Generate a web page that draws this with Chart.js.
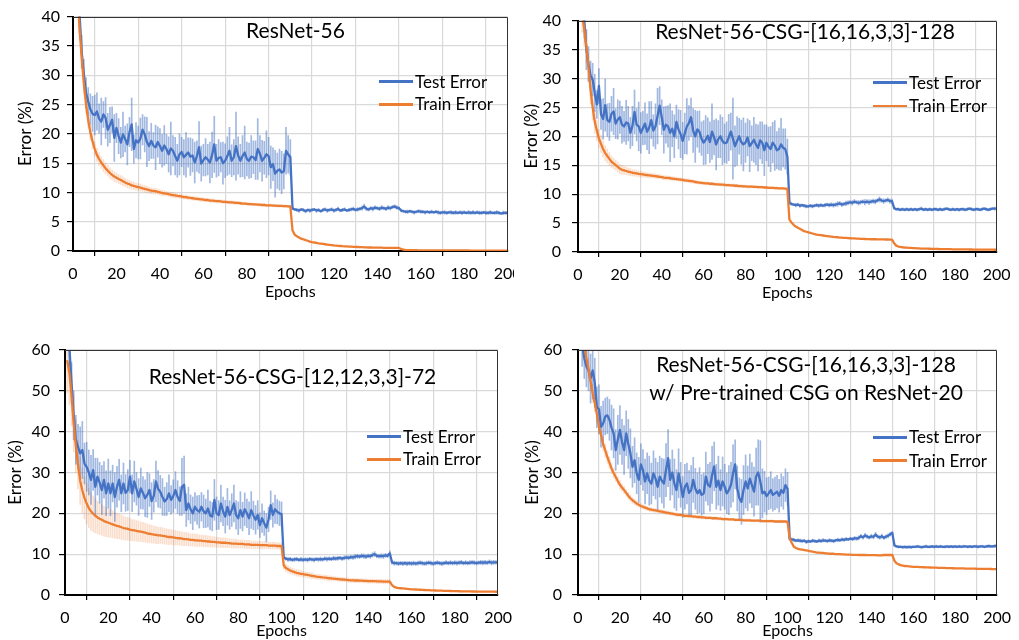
<!DOCTYPE html>
<html>
<head>
<meta charset="utf-8">
<title>ResNet-56 training curves</title>
<script src="https://cdn.jsdelivr.net/npm/chart.js@4.4.1/dist/chart.umd.min.js"></script>
<style>
  html, body { margin: 0; padding: 0; background: #fff; }
  body { width: 1019px; height: 640px; position: relative; overflow: hidden;
         font-family: Lato, "Open Sans", "DejaVu Sans", sans-serif; color: #000; }
  .panel { position: absolute; overflow: hidden; }
  .panel canvas { position: absolute; left: 0; top: 0; }
  .title { position: absolute; width: 500px; text-align: center; font-size: 21px;
           line-height: 28px; white-space: nowrap; }
  .legend-row { position: absolute; height: 24px; line-height: 24px; font-size: 17px;
                display: flex; align-items: center; white-space: nowrap; }
  .legend-row .swatch { display: inline-block; width: 34px; height: 2.5px; margin-right: 2px; }
</style>
</head>
<body>
<script>
// ---------- tick labels ----------
const epochTicks = [0, 20, 40, 60, 80, 100, 120, 140, 160, 180, 200];
const errTicks40 = [0, 5, 10, 15, 20, 25, 30, 35, 40];
const errTicks60 = [0, 10, 20, 30, 40, 50, 60];

// ---------- ResNet-56 (epochs 1..200) ----------
const r56Test = [
  50, 45, 40.5, 34, 30.2, 27, 25.5, 24.2, 23.4, 23.2,
  23.8, 22.6, 22.1, 23.3, 22.7, 20.7, 21.5, 22.4, 19.3, 21.0,
  19.6, 18.5, 19.9, 19.1, 18.2, 20.3, 21.6, 17.4, 18.9, 18.5,
  19.2, 20.7, 19.9, 18.6, 17.9, 18.8, 18.0, 17.7, 18.6, 17.9,
  17.1, 18.0, 17.4, 16.5, 17.5, 17.1, 16.2, 15.4, 16.5, 16.9,
  16.0, 16.4, 16.8, 16.1, 16.3, 15.1, 16.2, 17.7, 14.9, 15.5,
  16.0, 15.6, 15.1, 16.4, 18.2, 15.4, 15.9, 16.0, 15.0, 15.4,
  16.2, 17.1, 15.4, 16.0, 17.9, 16.3, 15.4, 16.2, 16.8, 15.7,
  15.4, 16.1, 16.0, 15.5, 17.4, 16.6, 15.4, 15.9, 16.5, 16.2,
  14.3, 14.8, 13.2, 13.7, 13.9, 13.4, 13.6, 17.1, 16.5, 16.0,
  7.3, 7.1, 7.0, 6.9, 7.1, 7.0, 6.8, 7.0, 6.9, 7.0,
  7.1, 6.9, 7.0, 6.8, 7.0, 7.1, 6.9, 7.0, 7.1, 6.9,
  7.0, 7.2, 6.9, 7.0, 7.1, 6.9, 7.0, 7.1, 7.2, 7.0,
  7.1, 7.2, 7.3, 7.6, 7.2, 7.1, 7.3, 7.2, 7.4, 7.3,
  7.2, 7.4, 7.3, 7.2, 7.4, 7.3, 7.5, 7.6, 7.4, 7.3,
  6.9, 6.8, 6.7, 6.7, 6.8, 6.7, 6.6, 6.7, 6.8, 6.7,
  6.7, 6.6, 6.7, 6.6, 6.7, 6.6, 6.7, 6.6, 6.5, 6.6,
  6.6, 6.5, 6.6, 6.6, 6.5, 6.6, 6.5, 6.6, 6.5, 6.6,
  6.5, 6.6, 6.5, 6.6, 6.5, 6.6, 6.5, 6.5, 6.6, 6.5,
  6.5, 6.6, 6.5, 6.5, 6.6, 6.5, 6.4, 6.5, 6.5, 6.5
];
const r56TestSpread = [
  3.0, 3.0, 3.2, 2.8, 2.5, 2.6, 2.4, 2.6, 3.0, 3.4,
  3.2, 2.5, 4.0, 2.2, 3.5, 2.8, 3.0, 2.2, 4.0, 2.5,
  3.0, 2.6, 3.8, 2.2, 3.5, 2.5, 4.5, 2.4, 3.0, 2.8,
  3.5, 2.6, 3.0, 4.2, 2.5, 3.0, 2.2, 3.8, 2.6, 3.0,
  2.8, 3.4, 2.5, 3.0, 4.5, 2.6, 3.2, 2.8, 3.5, 2.5,
  3.0, 3.8, 2.5, 3.2, 2.8, 3.5, 2.6, 4.4, 3.0, 2.7,
  3.2, 2.6, 3.5, 3.9, 4.8, 2.8, 3.1, 2.5, 3.6, 2.9,
  3.3, 4.0, 2.7, 3.0, 5.8, 3.2, 2.8, 3.5, 4.5, 2.9,
  3.0, 3.6, 2.8, 3.3, 5.2, 3.1, 3.5, 2.8, 4.0, 3.2,
  3.6, 2.8, 4.0, 3.0, 3.5, 3.6, 3.0, 4.0, 3.2, 3.0,
  0.3, 0.2, 0.25, 0.3, 0.2, 0.25, 0.3, 0.2, 0.3, 0.25,
  0.2, 0.3, 0.25, 0.2, 0.3, 0.25, 0.3, 0.2, 0.25, 0.3,
  0.25, 0.3, 0.2, 0.3, 0.25, 0.2, 0.3, 0.25, 0.3, 0.2,
  0.3, 0.25, 0.35, 0.4, 0.3, 0.25, 0.3, 0.35, 0.3, 0.25,
  0.3, 0.35, 0.25, 0.3, 0.35, 0.3, 0.25, 0.3, 0.3, 0.25,
  0.25, 0.2, 0.25, 0.3, 0.2, 0.25, 0.3, 0.2, 0.25, 0.3,
  0.25, 0.3, 0.2, 0.25, 0.3, 0.2, 0.25, 0.3, 0.25, 0.2,
  0.3, 0.25, 0.2, 0.3, 0.25, 0.3, 0.2, 0.25, 0.3, 0.25,
  0.2, 0.3, 0.25, 0.3, 0.2, 0.25, 0.3, 0.25, 0.2, 0.3,
  0.25, 0.3, 0.2, 0.25, 0.3, 0.25, 0.2, 0.3, 0.25, 0.3
];
const r56Train = [
  55, 45, 38, 33, 28.5, 25, 22.3, 20.2, 18.7, 17.4,
  16.4, 15.7, 15.1, 14.6, 14.1, 13.7, 13.3, 13.0, 12.7, 12.5,
  12.3, 12.1, 11.9, 11.7, 11.5, 11.4, 11.2, 11.1, 11.0, 10.9,
  10.8, 10.7, 10.6, 10.5, 10.4, 10.3, 10.25, 10.2, 10.1, 10.0,
  9.9, 9.85, 9.8, 9.7, 9.6, 9.55, 9.5, 9.4, 9.35, 9.3,
  9.2, 9.2, 9.1, 9.05, 9.0, 8.95, 8.9, 8.85, 8.8, 8.75,
  8.7, 8.7, 8.6, 8.6, 8.55, 8.5, 8.5, 8.45, 8.4, 8.4,
  8.35, 8.3, 8.3, 8.25, 8.2, 8.2, 8.15, 8.1, 8.1, 8.05,
  8.0, 8.0, 7.95, 7.95, 7.9, 7.9, 7.85, 7.85, 7.8, 7.8,
  7.8, 7.75, 7.75, 7.7, 7.7, 7.7, 7.65, 7.65, 7.6, 7.6,
  3.5, 2.8, 2.5, 2.3, 2.1, 2.0, 1.85, 1.75, 1.6, 1.5,
  1.45, 1.4, 1.3, 1.25, 1.2, 1.15, 1.1, 1.05, 1.0, 0.95,
  0.92, 0.88, 0.85, 0.82, 0.8, 0.78, 0.75, 0.73, 0.7, 0.7,
  0.68, 0.66, 0.65, 0.63, 0.62, 0.6, 0.6, 0.58, 0.58, 0.57,
  0.56, 0.56, 0.55, 0.55, 0.54, 0.54, 0.53, 0.53, 0.52, 0.52,
  0.35, 0.22, 0.18, 0.16, 0.15, 0.14, 0.13, 0.13, 0.12, 0.12,
  0.12, 0.12, 0.11, 0.11, 0.11, 0.11, 0.1, 0.1, 0.1, 0.1,
  0.1, 0.1, 0.1, 0.09, 0.09, 0.09, 0.09, 0.09, 0.09, 0.09,
  0.09, 0.09, 0.08, 0.08, 0.08, 0.08, 0.08, 0.08, 0.08, 0.08,
  0.08, 0.08, 0.08, 0.08, 0.08, 0.08, 0.08, 0.08, 0.08, 0.08
];
const r56TrainSpread = [
  2.0, 2.0, 2.0, 1.8, 1.6, 1.5, 1.4, 1.3, 1.2, 1.2,
  1.1, 1.1, 1.0, 1.0, 0.95, 0.9, 0.9, 0.85, 0.85, 0.8,
  0.8, 0.75, 0.75, 0.7, 0.7, 0.7, 0.65, 0.65, 0.6, 0.6,
  0.6, 0.55, 0.55, 0.55, 0.5, 0.5, 0.5, 0.5, 0.45, 0.45,
  0.45, 0.45, 0.4, 0.4, 0.4, 0.4, 0.4, 0.38, 0.38, 0.36,
  0.36, 0.35, 0.35, 0.34, 0.34, 0.33, 0.33, 0.32, 0.32, 0.31,
  0.31, 0.3, 0.3, 0.3, 0.29, 0.29, 0.28, 0.28, 0.28, 0.27,
  0.27, 0.27, 0.26, 0.26, 0.26, 0.25, 0.25, 0.25, 0.25, 0.24,
  0.24, 0.24, 0.23, 0.23, 0.23, 0.23, 0.22, 0.22, 0.22, 0.22,
  0.21, 0.21, 0.21, 0.21, 0.2, 0.2, 0.2, 0.2, 0.2, 0.2
];

// ---------- ResNet-56-CSG-[16,16,3,3]-128 ----------
const csg128Test = [
  50, 44, 40, 35, 32.5, 30.5, 29.8, 27.5, 25.5, 28.7,
  23.8, 23.0, 25.4, 22.8, 22.5, 23.9, 24.3, 22.2, 22.9, 23.3,
  22.0, 21.7, 22.4, 22.2, 20.6, 21.8, 24.2, 22.0, 21.7, 20.6,
  21.4, 22.2, 20.8, 21.5, 22.8, 21.0, 21.7, 23.5, 25.3, 23.3,
  21.1, 22.0, 21.7, 20.6, 21.3, 20.0, 22.5, 21.2, 20.4, 19.2,
  20.5, 21.7, 22.3, 23.3, 21.0, 20.0, 21.2, 20.8, 19.6, 18.9,
  19.4, 20.1, 19.0, 20.8, 19.8, 18.6, 19.5, 20.0, 19.2, 18.8,
  18.9, 19.8, 20.8, 19.6, 18.3, 19.2, 20.0, 19.0, 18.6, 18.9,
  19.8, 18.3, 18.8, 19.4, 18.6, 18.0, 19.3, 18.9, 17.6, 18.9,
  18.2, 17.8, 18.9, 18.4, 17.6, 17.8, 18.6, 18.0, 17.8, 16.5,
  8.5, 8.3, 8.2, 8.1, 8.2, 8.0, 8.1, 8.0, 7.9, 7.9,
  8.0, 7.9, 8.0, 8.1, 8.0, 8.1, 8.0, 8.1, 8.2, 8.1,
  8.2, 8.1, 8.2, 8.3, 8.4, 8.2, 8.3, 8.4, 8.5, 8.6,
  8.5, 8.7, 8.6, 8.5, 8.6, 8.7, 8.6, 8.7, 8.6, 8.7,
  8.8, 8.7, 8.9, 9.1, 8.9, 8.8, 8.9, 9.0, 8.8, 8.8,
  7.6, 7.4, 7.4, 7.3, 7.4, 7.3, 7.4, 7.3, 7.4, 7.3,
  7.4, 7.3, 7.4, 7.5, 7.3, 7.4, 7.3, 7.4, 7.3, 7.4,
  7.4, 7.3, 7.4, 7.3, 7.4, 7.5, 7.4, 7.3, 7.4, 7.3,
  7.4, 7.3, 7.4, 7.4, 7.3, 7.4, 7.5, 7.4, 7.3, 7.4,
  7.4, 7.3, 7.4, 7.5, 7.4, 7.3, 7.4, 7.5, 7.5, 7.5
];
const csg128TestSpread = [
  3.0, 3.0, 3.0, 3.5, 3.0, 2.5, 2.8, 3.2, 2.4, 3.0,
  2.6, 3.5, 4.5, 2.8, 3.2, 3.0, 4.0, 2.6, 3.4, 2.8,
  3.2, 2.6, 3.8, 3.0, 2.7, 3.4, 3.8, 2.8, 4.2, 3.5,
  2.9, 3.6, 3.1, 4.5, 3.2, 2.7, 3.9, 4.8, 3.3, 3.0,
  4.0, 3.2, 3.6, 5.0, 3.1, 3.7, 2.9, 3.4, 4.1, 3.2,
  3.5, 4.8, 3.0, 3.3, 3.8, 4.5, 3.1, 3.6, 2.9, 3.8,
  4.2, 3.1, 3.5, 4.8, 3.0, 4.4, 3.2, 3.7, 4.1, 3.3,
  3.6, 4.0, 3.2, 7.0, 3.5, 4.2, 3.1, 3.8, 4.6, 3.4,
  3.2, 4.4, 3.0, 3.9, 3.5, 4.0, 3.2, 3.6, 4.4, 3.1,
  3.4, 3.9, 3.5, 4.3, 3.2, 3.6, 4.5, 3.3, 3.5, 3.0,
  0.3, 0.25, 0.2, 0.3, 0.25, 0.3, 0.2, 0.25, 0.3, 0.2,
  0.25, 0.3, 0.2, 0.25, 0.3, 0.25, 0.2, 0.3, 0.25, 0.3,
  0.3, 0.35, 0.3, 0.4, 0.3, 0.35, 0.3, 0.4, 0.35, 0.3,
  0.4, 0.35, 0.3, 0.4, 0.35, 0.3, 0.45, 0.35, 0.4, 0.3,
  0.35, 0.4, 0.3, 0.45, 0.35, 0.4, 0.3, 0.35, 0.4, 0.35,
  0.25, 0.2, 0.25, 0.2, 0.25, 0.2, 0.25, 0.2, 0.25, 0.2,
  0.2, 0.25, 0.2, 0.25, 0.2, 0.25, 0.2, 0.25, 0.2, 0.25,
  0.25, 0.2, 0.25, 0.2, 0.25, 0.2, 0.25, 0.2, 0.25, 0.2,
  0.2, 0.25, 0.2, 0.25, 0.2, 0.25, 0.2, 0.25, 0.2, 0.25,
  0.25, 0.2, 0.25, 0.2, 0.25, 0.2, 0.25, 0.2, 0.25, 0.2
];
const csg128Train = [
  44, 41, 38.5, 35.5, 32, 28, 25, 22.5, 21, 19.6,
  18.7, 17.8, 17.1, 16.6, 16.1, 15.6, 15.3, 15.0, 14.7, 14.4,
  14.2, 14.1, 14.0, 13.9, 13.8, 13.7, 13.65, 13.6, 13.5, 13.45,
  13.4, 13.35, 13.3, 13.25, 13.2, 13.15, 13.1, 13.05, 13.0, 12.95,
  12.85, 12.8, 12.8, 12.75, 12.7, 12.65, 12.6, 12.55, 12.5, 12.45,
  12.4, 12.35, 12.3, 12.25, 12.2, 12.1, 12.05, 12.0, 11.95, 11.9,
  11.85, 11.85, 11.8, 11.8, 11.75, 11.7, 11.7, 11.65, 11.65, 11.6,
  11.55, 11.55, 11.5, 11.5, 11.45, 11.45, 11.4, 11.4, 11.35, 11.35,
  11.3, 11.3, 11.3, 11.25, 11.25, 11.2, 11.2, 11.2, 11.15, 11.15,
  11.1, 11.1, 11.1, 11.05, 11.05, 11.0, 11.0, 11.0, 10.95, 10.9,
  5.6, 5.1, 4.7, 4.4, 4.2, 4.0, 3.8, 3.6, 3.5, 3.4,
  3.3, 3.2, 3.1, 3.0, 2.95, 2.9, 2.85, 2.8, 2.75, 2.7,
  2.65, 2.6, 2.58, 2.55, 2.5, 2.48, 2.45, 2.43, 2.4, 2.38,
  2.36, 2.34, 2.32, 2.3, 2.28, 2.26, 2.25, 2.24, 2.22, 2.2,
  2.2, 2.2, 2.18, 2.18, 2.17, 2.17, 2.16, 2.16, 2.15, 2.15,
  1.5, 1.1, 0.95, 0.88, 0.82, 0.78, 0.75, 0.72, 0.7, 0.68,
  0.66, 0.64, 0.62, 0.6, 0.59, 0.58, 0.57, 0.56, 0.55, 0.54,
  0.53, 0.52, 0.51, 0.5, 0.5, 0.49, 0.48, 0.48, 0.47, 0.47,
  0.46, 0.46, 0.45, 0.45, 0.44, 0.44, 0.43, 0.43, 0.42, 0.42,
  0.42, 0.41, 0.41, 0.41, 0.4, 0.4, 0.4, 0.4, 0.39, 0.39
];
const csg128TrainSpread = [
  3.0, 3.0, 3.0, 2.8, 2.6, 2.4, 2.2, 2.0, 1.8, 1.6,
  1.5, 1.4, 1.3, 1.2, 1.1, 1.0, 0.95, 0.9, 0.85, 0.8,
  0.75, 0.7, 0.65, 0.6, 0.6, 0.55, 0.55, 0.5, 0.5, 0.5,
  0.45, 0.45, 0.45, 0.4, 0.4, 0.4, 0.4, 0.38, 0.38, 0.36,
  0.36, 0.35, 0.35, 0.34, 0.34, 0.33, 0.33, 0.32, 0.32, 0.31,
  0.31, 0.3, 0.3, 0.3, 0.29, 0.29, 0.28, 0.28, 0.28, 0.27,
  0.27, 0.27, 0.26, 0.26, 0.26, 0.25, 0.25, 0.25, 0.25, 0.24,
  0.24, 0.24, 0.23, 0.23, 0.23, 0.23, 0.22, 0.22, 0.22, 0.22,
  0.21, 0.21, 0.21, 0.21, 0.2, 0.2, 0.2, 0.2, 0.2, 0.2,
  0.2, 0.2, 0.2, 0.2, 0.2, 0.2, 0.2, 0.2, 0.2, 0.2
];

// ---------- ResNet-56-CSG-[12,12,3,3]-72 ----------
const csg72Test = [
  66, 61, 52, 44, 38, 36.3, 34.7, 35.5, 32.2, 31.4,
  30.0, 28.2, 30.6, 26.5, 29.0, 27.5, 25.7, 28.2, 24.9, 27.3,
  24.9, 27.3, 24.0, 26.5, 28.2, 24.9, 27.3, 25.0, 25.7, 29.0,
  24.9, 27.8, 26.0, 24.0, 26.1, 25.0, 23.7, 24.5, 25.7, 23.0,
  24.3, 27.8, 26.0, 25.3, 24.0, 22.9, 23.5, 24.9, 23.3, 24.2,
  25.7, 24.0, 23.0, 26.5, 27.0, 20.8, 22.4, 21.0, 20.0, 21.6,
  20.8, 20.4, 21.6, 20.5, 20.0, 21.2, 19.5, 19.2, 23.3, 20.0,
  19.6, 22.4, 20.5, 19.2, 21.6, 19.6, 20.8, 22.4, 19.6, 18.8,
  20.8, 19.2, 21.0, 20.0, 18.8, 20.8, 19.5, 18.4, 19.6, 17.1,
  18.8, 17.6, 16.5, 18.5, 22.0, 19.6, 21.0, 20.4, 20.0, 19.8,
  9.2, 8.9, 8.7, 8.8, 8.6, 8.7, 8.8, 8.6, 8.7, 8.6,
  8.7, 8.6, 8.8, 8.7, 8.6, 8.8, 8.7, 8.8, 8.7, 8.9,
  8.8, 8.9, 8.8, 9.0, 8.9, 9.0, 9.1, 8.9, 9.1, 9.2,
  9.1, 9.3, 9.2, 9.4, 9.5, 9.4, 9.6, 9.5, 9.4, 9.6,
  9.5, 9.8, 10.0, 9.6, 9.5, 9.6, 9.5, 9.7, 9.6, 10.2,
  8.0, 7.8, 7.8, 7.7, 7.8, 7.7, 7.8, 7.7, 7.8, 7.7,
  7.8, 7.7, 7.8, 7.9, 7.8, 7.7, 7.8, 7.9, 7.8, 7.7,
  7.8, 7.9, 7.8, 7.7, 7.8, 7.9, 7.8, 7.9, 7.8, 7.9,
  7.8, 7.9, 8.0, 7.8, 7.9, 7.8, 7.9, 8.0, 7.9, 7.8,
  7.9, 8.0, 7.9, 8.0, 7.9, 8.1, 7.9, 8.0, 8.0, 8.0
];
const csg72TestSpread = [
  5, 5, 5, 6, 6, 5.5, 6.5, 7, 5, 6,
  5.5, 6, 5, 7, 4.5, 5, 6, 4.5, 5.5, 6,
  5.5, 4.5, 6, 5, 5, 4.5, 5, 4.5, 5, 4,
  4.5, 5, 4, 4.5, 5, 4, 4.5, 5.5, 4, 4.5,
  4, 5, 4.5, 4, 4.5, 3.5, 4, 4.5, 3.5, 4,
  4.5, 4, 3.5, 7, 7, 4, 4, 3.5, 4, 3.5,
  3.5, 4, 3.5, 4, 3.5, 4.5, 3.5, 3.5, 5, 4,
  3.5, 4.5, 3.5, 4, 4.5, 3.5, 4, 4.5, 3.5, 4,
  4.5, 3.5, 4, 3.5, 4, 4.5, 3.5, 3.5, 3.5, 3,
  3.5, 3, 3.5, 3, 3.5, 3, 3.5, 3, 3, 3,
  0.5, 0.4, 0.5, 0.45, 0.4, 0.5, 0.45, 0.4, 0.5, 0.45,
  0.4, 0.5, 0.45, 0.4, 0.5, 0.4, 0.45, 0.5, 0.4, 0.45,
  0.5, 0.45, 0.4, 0.5, 0.45, 0.5, 0.4, 0.45, 0.5, 0.45,
  0.5, 0.45, 0.5, 0.55, 0.5, 0.45, 0.5, 0.55, 0.5, 0.45,
  0.5, 0.55, 0.6, 0.5, 0.45, 0.5, 0.55, 0.5, 0.45, 0.6,
  0.45, 0.5, 0.45, 0.5, 0.45, 0.5, 0.45, 0.5, 0.45, 0.5,
  0.5, 0.45, 0.5, 0.45, 0.5, 0.45, 0.5, 0.45, 0.5, 0.45,
  0.45, 0.5, 0.45, 0.5, 0.45, 0.5, 0.45, 0.5, 0.45, 0.5,
  0.5, 0.45, 0.5, 0.45, 0.5, 0.45, 0.5, 0.45, 0.5, 0.45,
  0.45, 0.5, 0.55, 0.5, 0.45, 0.5, 0.55, 0.5, 0.45, 0.5
];
const csg72Train = [
  57.5, 54.5, 49, 42, 36.5, 32, 28, 25.6, 23.8, 22.4,
  21.3, 20.5, 19.9, 19.4, 19.0, 18.7, 18.4, 18.1, 17.9, 17.7,
  17.5, 17.3, 17.1, 16.9, 16.8, 16.6, 16.4, 16.3, 16.2, 16.0,
  15.9, 15.8, 15.7, 15.6, 15.5, 15.4, 15.3, 15.1, 15.0, 14.9,
  14.8, 14.7, 14.6, 14.6, 14.5, 14.4, 14.3, 14.2, 14.2, 14.1,
  14.0, 13.9, 13.9, 13.8, 13.7, 13.7, 13.6, 13.5, 13.5, 13.4,
  13.4, 13.3, 13.3, 13.2, 13.2, 13.1, 13.1, 13.0, 13.0, 12.9,
  12.9, 12.8, 12.8, 12.8, 12.7, 12.7, 12.6, 12.6, 12.6, 12.5,
  12.5, 12.5, 12.4, 12.4, 12.4, 12.3, 12.3, 12.3, 12.3, 12.2,
  12.2, 12.2, 12.2, 12.1, 12.1, 12.1, 12.1, 12.0, 12.0, 12.0,
  7.3, 6.6, 6.3, 6.0, 5.8, 5.6, 5.4, 5.3, 5.2, 5.1,
  5.0, 4.9, 4.8, 4.7, 4.6, 4.5, 4.45, 4.4, 4.3, 4.25,
  4.2, 4.1, 4.05, 4.0, 3.95, 3.9, 3.85, 3.8, 3.75, 3.7,
  3.65, 3.6, 3.6, 3.55, 3.55, 3.5, 3.5, 3.45, 3.45, 3.4,
  3.4, 3.4, 3.4, 3.35, 3.35, 3.35, 3.3, 3.3, 3.3, 3.3,
  2.4, 2.0, 1.8, 1.7, 1.65, 1.6, 1.55, 1.5, 1.45, 1.4,
  1.38, 1.35, 1.3, 1.28, 1.25, 1.22, 1.2, 1.18, 1.15, 1.12,
  1.1, 1.08, 1.06, 1.05, 1.03, 1.0, 0.99, 0.98, 0.96, 0.95,
  0.94, 0.92, 0.91, 0.9, 0.89, 0.88, 0.87, 0.86, 0.86, 0.85,
  0.84, 0.84, 0.83, 0.83, 0.82, 0.82, 0.81, 0.81, 0.8, 0.8
];
const csg72TrainSpread = [
  8.0, 8.0, 7.5, 7.0, 6.5, 6.0, 5.8, 5.5, 5.2, 5.0,
  4.8, 4.6, 4.4, 4.2, 4.0, 3.9, 3.8, 3.7, 3.6, 3.5,
  3.4, 3.3, 3.2, 3.1, 3.0, 3.0, 2.9, 2.8, 2.8, 2.7,
  2.6, 2.6, 2.5, 2.5, 2.4, 2.4, 2.3, 2.3, 2.2, 2.2,
  2.1, 2.1, 2.0, 2.0, 2.0, 1.9, 1.9, 1.9, 1.8, 1.8,
  1.8, 1.7, 1.7, 1.7, 1.6, 1.6, 1.6, 1.5, 1.5, 1.5,
  1.5, 1.4, 1.4, 1.4, 1.4, 1.3, 1.3, 1.3, 1.3, 1.2,
  1.2, 1.2, 1.2, 1.2, 1.1, 1.1, 1.1, 1.1, 1.1, 1.0,
  1.0, 1.0, 1.0, 1.0, 1.0, 0.9, 0.9, 0.9, 0.9, 0.9,
  0.9, 0.9, 0.8, 0.8, 0.8, 0.8, 0.8, 0.8, 0.8, 0.8,
  1.0, 0.9, 0.9, 0.8, 0.8, 0.8, 0.8, 0.7, 0.7, 0.7,
  0.7, 0.7, 0.7, 0.7, 0.6, 0.6, 0.6, 0.6, 0.6, 0.6,
  0.6, 0.6, 0.6, 0.5, 0.5, 0.5, 0.5, 0.5, 0.5, 0.5,
  0.5, 0.5, 0.5, 0.5, 0.5, 0.5, 0.5, 0.5, 0.5, 0.5,
  0.5, 0.5, 0.5, 0.5, 0.5, 0.5, 0.5, 0.5, 0.5, 0.5
];

// ---------- ResNet-56-CSG-[16,16,3,3]-128, CSG pre-trained on ResNet-20 ----------
const preTest = [
  66, 61, 58, 56, 55, 53, 55, 52, 46, 45.5,
  41.2, 42.0, 43.7, 44.0, 42.9, 41.0, 39.6, 35.5, 38.0, 40.4,
  37.5, 35.5, 39.6, 37.0, 34.7, 31.4, 33.0, 29.8, 28.2, 32.0,
  30.6, 27.8, 29.8, 28.0, 27.3, 29.8, 28.5, 26.5, 29.0, 28.0,
  27.3, 30.6, 33.5, 28.2, 30.0, 27.3, 25.7, 29.8, 27.0, 24.0,
  26.5, 27.3, 25.0, 25.7, 28.2, 26.0, 24.9, 25.7, 24.5, 24.9,
  29.0, 27.0, 26.5, 29.4, 31.5, 26.5, 28.0, 25.7, 27.8, 26.5,
  24.9, 25.7, 27.0, 29.8, 32.0, 26.1, 23.7, 22.8, 25.7, 27.8,
  26.1, 28.5, 26.9, 25.3, 29.0, 30.0, 27.8, 24.9, 25.3, 24.2,
  24.9, 25.7, 24.5, 24.9, 25.3, 24.3, 25.7, 25.0, 26.9, 26.0,
  13.8, 13.6, 13.5, 13.3, 13.4, 13.3, 13.2, 13.3, 13.0, 13.2,
  13.1, 13.3, 13.2, 13.1, 13.3, 13.2, 13.4, 13.3, 13.2, 13.4,
  13.3, 13.2, 13.4, 13.5, 13.4, 13.6, 13.5, 13.7, 13.6, 13.8,
  13.7, 13.9, 13.8, 14.0, 14.4, 14.1, 14.6, 14.3, 14.1, 14.4,
  14.2, 14.8, 14.3, 14.1, 14.4, 14.0, 14.3, 14.5, 14.9, 15.2,
  12.2, 11.9, 11.8, 11.8, 11.7, 11.8, 11.7, 11.8, 11.7, 11.8,
  11.8, 11.9, 11.8, 11.7, 11.8, 11.9, 11.8, 11.8, 11.9, 11.8,
  11.9, 11.8, 11.9, 11.8, 11.8, 11.9, 11.8, 11.9, 11.8, 11.9,
  11.8, 11.9, 11.8, 11.9, 11.9, 11.8, 11.9, 11.8, 11.9, 11.9,
  11.8, 11.9, 11.9, 11.8, 11.9, 12.0, 11.9, 11.9, 12.0, 12.0
];
const preTestSpread = [
  5, 5, 5, 5, 5, 6, 7, 6, 5, 6,
  5, 5.5, 4.5, 4.5, 5, 5.5, 6, 5, 6, 6,
  5.5, 6, 5.5, 6, 6, 5, 5.5, 5, 5.5, 5,
  5, 5.5, 5, 6, 5, 5.5, 5, 6, 5, 5.5,
  6, 6.5, 7, 5, 5.5, 6, 5, 6, 5.5, 5,
  5.5, 5, 5.5, 6, 5.5, 5, 5, 5.5, 5, 5,
  6, 5, 6, 7, 6, 5.5, 6, 5, 6, 5.5,
  5, 6, 5.5, 7, 6, 5.5, 5, 5.5, 6, 6.5,
  5.5, 6, 5.5, 6, 7, 8, 10, 6, 5, 4.5,
  4, 4.5, 4, 4, 4, 4, 4, 4, 4, 4,
  0.4, 0.35, 0.4, 0.3, 0.35, 0.4, 0.35, 0.3, 0.4, 0.35,
  0.3, 0.4, 0.35, 0.3, 0.4, 0.35, 0.4, 0.3, 0.35, 0.4,
  0.35, 0.4, 0.3, 0.4, 0.35, 0.4, 0.35, 0.4, 0.3, 0.35,
  0.4, 0.45, 0.4, 0.5, 0.45, 0.4, 0.5, 0.45, 0.4, 0.5,
  0.45, 0.5, 0.4, 0.45, 0.5, 0.4, 0.45, 0.5, 0.45, 0.4,
  0.3, 0.25, 0.3, 0.25, 0.3, 0.25, 0.3, 0.25, 0.3, 0.25,
  0.25, 0.3, 0.25, 0.3, 0.25, 0.3, 0.25, 0.3, 0.25, 0.3,
  0.3, 0.25, 0.3, 0.25, 0.3, 0.25, 0.3, 0.25, 0.3, 0.25,
  0.25, 0.3, 0.25, 0.3, 0.25, 0.3, 0.25, 0.3, 0.25, 0.3,
  0.3, 0.25, 0.3, 0.25, 0.3, 0.25, 0.3, 0.25, 0.3, 0.25
];
const preTrain = [
  68, 64.5, 61.5, 58, 55.5, 52.3, 49.4, 47, 44.3, 41.2,
  39.2, 37.0, 35.4, 33.8, 32.4, 31.0, 29.9, 28.9, 27.9, 27.0,
  26.3, 25.7, 25.0, 24.3, 23.7, 23.2, 22.8, 22.4, 22.1, 21.8,
  21.6, 21.4, 21.2, 21.0, 20.9, 20.8, 20.7, 20.6, 20.5, 20.4,
  20.3, 20.2, 20.1, 20.0, 19.9, 19.8, 19.7, 19.6, 19.6, 19.5,
  19.4, 19.4, 19.3, 19.3, 19.2, 19.2, 19.1, 19.1, 19.0, 19.0,
  18.9, 18.9, 18.9, 18.8, 18.8, 18.8, 18.7, 18.7, 18.6, 18.6,
  18.6, 18.5, 18.5, 18.5, 18.4, 18.4, 18.4, 18.4, 18.3, 18.3,
  18.3, 18.3, 18.2, 18.2, 18.2, 18.2, 18.2, 18.1, 18.1, 18.1,
  18.1, 18.1, 18.1, 18.0, 18.0, 18.0, 18.0, 18.0, 18.0, 17.9,
  13.9, 12.8, 11.8, 11.5, 11.3, 11.2, 11.1, 11.0, 10.9, 10.8,
  10.7, 10.6, 10.5, 10.4, 10.4, 10.3, 10.3, 10.2, 10.2, 10.1,
  10.1, 10.1, 10.0, 10.0, 10.0, 9.95, 9.95, 9.9, 9.9, 9.9,
  9.85, 9.85, 9.85, 9.8, 9.8, 9.8, 9.8, 9.75, 9.75, 9.75,
  9.75, 9.75, 9.7, 9.7, 9.7, 9.8, 9.8, 9.8, 9.85, 9.8,
  8.4, 7.8, 7.5, 7.3, 7.2, 7.1, 7.05, 7.0, 6.95, 6.9,
  6.9, 6.88, 6.85, 6.83, 6.8, 6.78, 6.76, 6.74, 6.72, 6.7,
  6.68, 6.66, 6.65, 6.63, 6.62, 6.6, 6.58, 6.57, 6.55, 6.54,
  6.53, 6.52, 6.5, 6.5, 6.48, 6.47, 6.46, 6.45, 6.44, 6.43,
  6.42, 6.41, 6.4, 6.4, 6.39, 6.38, 6.37, 6.36, 6.35, 6.35
];
const preTrainSpread = [
  2.5, 2.5, 2.5, 2.5, 2.4, 2.3, 2.2, 2.1, 2.0, 1.9,
  1.8, 1.7, 1.6, 1.5, 1.4, 1.3, 1.2, 1.1, 1.0, 1.0,
  0.9, 0.9, 0.8, 0.8, 0.75, 0.7, 0.7, 0.65, 0.6, 0.6,
  0.55, 0.55, 0.5, 0.5, 0.5, 0.48, 0.48, 0.46, 0.46, 0.45,
  0.45, 0.44, 0.44, 0.43, 0.43, 0.42, 0.42, 0.41, 0.41, 0.4,
  0.4, 0.4, 0.39, 0.39, 0.38, 0.38, 0.37, 0.37, 0.36, 0.36,
  0.36, 0.35, 0.35, 0.35, 0.34, 0.34, 0.34, 0.33, 0.33, 0.33,
  0.32, 0.32, 0.32, 0.31, 0.31, 0.31, 0.3, 0.3, 0.3, 0.3,
  0.3, 0.3, 0.3, 0.3, 0.3, 0.3, 0.3, 0.3, 0.3, 0.3,
  0.3, 0.3, 0.3, 0.3, 0.3, 0.3, 0.3, 0.3, 0.3, 0.3
];

// ---------- drawing ----------
const FONT = 'Lato, "Open Sans", "DejaVu Sans", sans-serif';
const BLUE = '#4472C4';
const ORANGE = '#ED7D31';

const toPoints = vals => vals.map((v, i) => ({ x: i + 1, y: v }));
const toRanges = (vals, spread) => spread.map((s, i) => ({ x: i + 1, y: [vals[i] - s, vals[i] + s] }));

// thin dark frame along the top and right of the plot area
const plotFrame = {
  id: 'plotFrame',
  afterDatasetsDraw(chart) {
    const { ctx, chartArea: a } = chart;
    ctx.save();
    ctx.strokeStyle = '#333';
    ctx.lineWidth = 1;
    ctx.beginPath();
    ctx.moveTo(a.left, Math.round(a.top) + 0.5);
    ctx.lineTo(Math.round(a.right) - 0.5, Math.round(a.top) + 0.5);
    ctx.lineTo(Math.round(a.right) - 0.5, a.bottom);
    ctx.stroke();
    ctx.restore();
  }
};

function axisFont(size) { return { family: FONT, size: size }; }

function buildPanel(p) {
  const wrap = document.createElement('div');
  wrap.className = 'panel';
  Object.assign(wrap.style, {
    left: p.box[0] + 'px', top: p.box[1] + 'px',
    width: p.box[2] + 'px', height: p.box[3] + 'px'
  });
  const cv = document.createElement('canvas');
  cv.width = p.canvas[0];
  cv.height = p.canvas[1];
  cv.style.width = p.canvas[0] + 'px';
  cv.style.height = p.canvas[1] + 'px';
  wrap.appendChild(cv);
  document.body.appendChild(wrap);

  new Chart(cv, {
    type: 'line',
    data: {
      datasets: [
        { type: 'line', label: 'Train Error', data: toPoints(p.train), borderColor: ORANGE,
          borderWidth: 2.3, pointRadius: 0, tension: 0, order: 0, borderJoinStyle: 'round' },
        { type: 'line', label: 'Test Error', data: toPoints(p.test), borderColor: BLUE,
          borderWidth: 2.3, pointRadius: 0, tension: 0, order: 1, borderJoinStyle: 'round' },
        { type: 'bar', label: 'Test Error spread', data: toRanges(p.test, p.testSpread),
          backgroundColor: 'rgba(68,114,196,0.5)', borderWidth: 0, barThickness: 1,
          grouped: false, order: 2 },
        { type: 'bar', label: 'Train Error spread', data: toRanges(p.train, p.trainSpread),
          backgroundColor: 'rgba(237,125,49,0.25)', borderWidth: 0, barThickness: 1,
          grouped: false, order: 3 }
      ]
    },
    options: {
      responsive: false,
      animation: false,
      events: [],
      layout: { padding: p.pad },
      plugins: { legend: { display: false }, tooltip: { enabled: false } },
      scales: {
        x: {
          type: 'linear', min: 0, max: 200, offset: false,
          afterBuildTicks: s => { s.ticks = epochTicks.map(v => ({ value: v })); },
          ticks: { color: '#000', font: axisFont(16), padding: p.xTickPad,
                   maxRotation: 0, autoSkip: false },
          grid: { color: '#d9d9d9', lineWidth: 1.2, tickColor: '#000', tickLength: 5 },
          border: { color: '#000', width: 2 },
          title: { display: true, text: 'Epochs', color: '#000', font: axisFont(16),
                   padding: { top: 0, bottom: p.xTitlePad } },
          afterFit: s => { s.height = p.xH; }
        },
        y: {
          type: 'linear', min: 0, max: p.yTicks[p.yTicks.length - 1],
          afterBuildTicks: s => { s.ticks = p.yTicks.map(v => ({ value: v })); },
          ticks: { color: '#000', font: axisFont(16), padding: p.yTickPad },
          grid: { color: '#d9d9d9', lineWidth: 1.2, tickColor: '#000', tickLength: 6 },
          border: { color: '#000', width: 2 },
          title: { display: true, text: 'Error (%)', color: '#000', font: axisFont(17),
                   padding: { top: p.yTitlePad, bottom: 0 } },
          afterFit: s => { s.width = p.yW; }
        }
      }
    },
    plugins: [plotFrame]
  });

  // chart title lines
  p.title.forEach(t => {
    const d = document.createElement('div');
    d.className = 'title';
    d.textContent = t.text;
    d.style.left = (t.cx - 250) + 'px';
    d.style.top = (t.cy - 14.5) + 'px';
    document.body.appendChild(d);
  });

  // legend rows
  [['Test Error', BLUE], ['Train Error', ORANGE]].forEach((row, i) => {
    const d = document.createElement('div');
    d.className = 'legend-row';
    d.style.left = p.legend.x + 'px';
    d.style.top = (p.legend.y[i] - 12) + 'px';
    const sw = document.createElement('span');
    sw.className = 'swatch';
    sw.style.background = row[1];
    const tx = document.createElement('span');
    tx.textContent = row[0];
    d.appendChild(sw);
    d.appendChild(tx);
    document.body.appendChild(d);
  });
}

buildPanel({
  box: [0, 0, 514, 320], canvas: [530, 311],
  pad: { left: 0, top: 13, right: 20, bottom: 0 },
  yW: 73, xH: 60, yTickPad: 7, xTickPad: 8.4, yTitlePad: 15.5, xTitlePad: 9.9,
  yTicks: errTicks40,
  test: r56Test, testSpread: r56TestSpread, train: r56Train, trainSpread: r56TrainSpread,
  title: [{ text: 'ResNet-56', cx: 295.5, cy: 30.7 }],
  legend: { x: 379, y: [81.7, 104.3] }
});

buildPanel({
  box: [515, 0, 504, 320], canvas: [504, 312],
  pad: { left: 0, top: 13, right: 14, bottom: 0 },
  yW: 63, xH: 60, yTickPad: 11, xTickPad: 8.4, yTitlePad: 6, xTitlePad: 9.4,
  yTicks: errTicks40,
  test: csg128Test, testSpread: csg128TestSpread, train: csg128Train, trainSpread: csg128TrainSpread,
  title: [{ text: 'ResNet-56-CSG-[16,16,3,3]-128', cx: 805, cy: 31.7 }],
  legend: { x: 873, y: [82.7, 106] }
});

buildPanel({
  box: [0, 330, 514, 310], canvas: [520, 320],
  pad: { left: 0, top: 20, right: 19.5, bottom: 0 },
  yW: 65, xH: 55, yTickPad: 9, xTickPad: 8, yTitlePad: 5.5, xTitlePad: 9.9,
  yTicks: errTicks60,
  test: csg72Test, testSpread: csg72TestSpread, train: csg72Train, trainSpread: csg72TrainSpread,
  title: [{ text: 'ResNet-56-CSG-[12,12,3,3]-72', cx: 292.5, cy: 376 }],
  legend: { x: 367, y: [436.7, 459.3] }
});

buildPanel({
  box: [515, 330, 504, 310], canvas: [504, 320],
  pad: { left: 0, top: 20, right: 15, bottom: 0 },
  yW: 63, xH: 55, yTickPad: 10, xTickPad: 8, yTitlePad: 7, xTitlePad: 9.9,
  yTicks: errTicks60,
  test: preTest, testSpread: preTestSpread, train: preTrain, trainSpread: preTrainSpread,
  title: [
    { text: 'ResNet-56-CSG-[16,16,3,3]-128', cx: 806, cy: 364.3 },
    { text: 'w/ Pre-trained CSG on ResNet-20', cx: 806, cy: 392.4 }
  ],
  legend: { x: 873, y: [437.3, 460.7] }
});
</script>
</body>
</html>
